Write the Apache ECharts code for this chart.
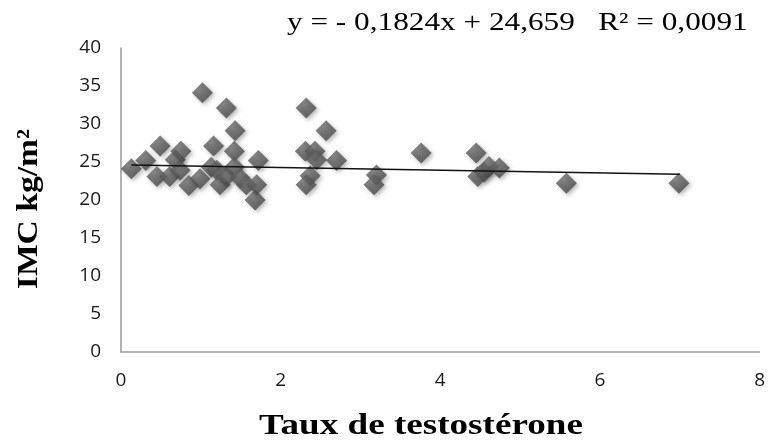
<!DOCTYPE html>
<html>
<head>
<meta charset="utf-8">
<script src="https://cdn.jsdelivr.net/npm/echarts@6/dist/echarts.min.js"></script>
<style>html,body{margin:0;padding:0;background:#fff}#c{width:768px;height:443px}</style>
</head>
<body>
<div id="c"></div>
<script>
// Testosterone level (x) and BMI (y)
var testo = [0.13,0.31,0.49,0.45,0.61,0.68,0.74,0.75,0.85,0.99,1.02,1.13,1.16,1.2,1.24,1.32,1.32,1.42,1.42,1.43,1.49,1.57,1.68,1.7,1.72,
             2.32,2.31,2.43,2.45,2.57,2.7,2.37,2.32,3.2,3.17,3.76,4.45,4.47,4.55,4.61,4.74,5.58,6.99];
var imc   = [24.1,25.2,27.1,23.1,23.1,25.3,23.9,26.4,21.9,22.8,34.1,24.3,27.1,23.9,22.0,32.1,23.1,26.4,24.3,29.1,22.9,22.0,20.0,22.0,25.2,
             32.1,26.4,26.4,25.3,29.1,25.2,23.2,22.0,23.3,22.0,26.2,26.2,23.1,23.7,24.4,24.2,22.2,22.2];
// Trend line end points as drawn
var trendX = [0.13, 7.0];
var trendY = [24.6, 23.4];
var xTicks = [0, 2, 4, 6, 8];
var yTicks = [0, 5, 10, 15, 20, 25, 30, 35, 40];
var equation = 'y = - 0,1824x + 24,659   R² = 0,0091';
var xTitle = 'Taux de testostérone';
var yTitle = 'IMC kg/m²';

var pts = testo.map(function(v, i){ return [v, imc[i]]; });
var trend = trendX.map(function(v, i){ return [v, trendY[i]]; });

var chart = echarts.init(document.getElementById('c'));
chart.setOption({
  animation: false,
  grid: {left: 121, right: 7, top: 48, bottom: 91},
  xAxis: {
    type: 'value', min: xTicks[0], max: xTicks[xTicks.length-1], interval: 2,
    splitLine: {show: false},
    axisLine: {lineStyle: {color: '#9a9a9a', width: 1.5}},
    axisTick: {show: false},
    axisLabel: {color: '#1a1a1a', fontSize: 19, fontFamily: 'Open Sans', margin: 19}
  },
  yAxis: {
    type: 'value', min: yTicks[0], max: yTicks[yTicks.length-1], interval: 5,
    splitLine: {show: false},
    axisLine: {show: true, lineStyle: {color: '#9a9a9a', width: 1.5}},
    axisTick: {show: false},
    axisLabel: {color: '#1a1a1a', fontSize: 19, fontFamily: 'Open Sans', margin: 20}
  },
  graphic: [{
    type: 'text', x: 287, y: 23, scaleX: 1.25,
    style: {text: equation, fontFamily: 'Liberation Serif', fontSize: 25, fill: '#000',
            align: 'left', verticalAlign: 'middle'}
  }, {
    type: 'text', x: 421, y: 427, scaleX: 1.28,
    style: {text: xTitle, fontFamily: 'Liberation Serif', fontWeight: 'bold', fontSize: 29, fill: '#000',
            align: 'center', verticalAlign: 'middle'}
  }, {
    type: 'text', x: 29, y: 209, rotation: Math.PI / 2, scaleX: 1.12,
    style: {text: yTitle, fontFamily: 'Liberation Serif', fontWeight: 'bold', fontSize: 30, fill: '#000',
            align: 'center', verticalAlign: 'middle'}
  }],
  series: [{
    type: 'line', data: trend, symbol: 'none', z: 3,
    lineStyle: {color: '#111', width: 1.5}
  }, {
    type: 'scatter', data: pts, symbol: 'diamond', symbolSize: 21, z: 2,
    itemStyle: {
      color: new echarts.graphic.RadialGradient(0.4, 0.35, 0.7, [
        {offset: 0, color: '#6e6e6e'}, {offset: 1, color: '#444'}
      ]),
      shadowBlur: 4, shadowOffsetX: 2, shadowOffsetY: 2, shadowColor: 'rgba(0,0,0,0.35)'
    }
  }]
});
</script>
</body>
</html>
